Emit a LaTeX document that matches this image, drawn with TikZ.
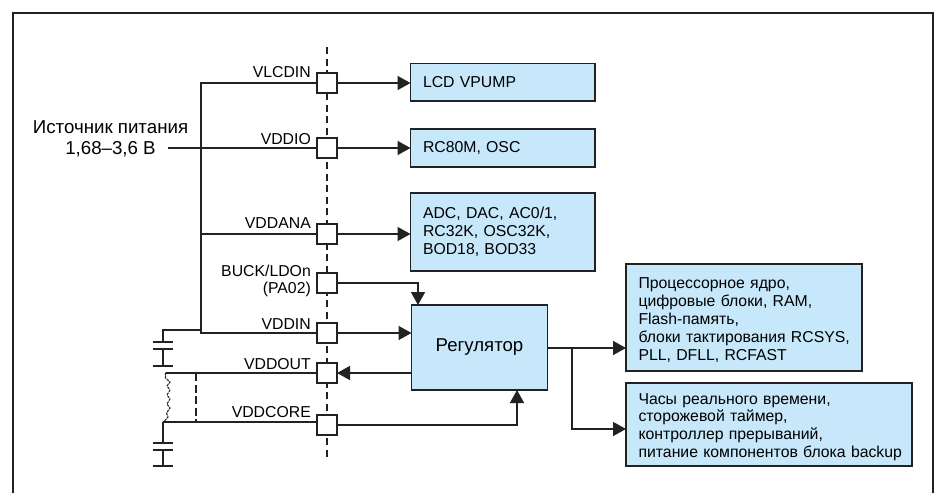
\documentclass[tikz,border=0pt]{standalone}
\usepackage{fontspec}
\setmainfont{Liberation Sans}
\usetikzlibrary{arrows.meta}
\definecolor{boxblue}{HTML}{C6E8FA}
\definecolor{ink}{HTML}{222222}
\newcommand{\dropline}{\rule{0pt}{16pt}}
\tikzset{
  x=1pt,y=-1pt,
  wire/.style={draw=ink,line width=1.5pt},
  arrowwire/.style={wire,-{Triangle[length=13pt,width=14pt]}},
  pin/.style={draw=ink,fill=white,line width=1.5pt,minimum width=20pt,minimum height=20pt,inner sep=0pt,outer sep=0pt},
  bluebox/.style={draw=ink,fill=boxblue,line width=1.4pt,inner ysep=0pt,inner xsep=12.5pt,outer sep=0pt,align=left,font=\fontsize{15.8}{17.8}\selectfont},
  lbl/.style={anchor=base east,inner sep=0pt,font=\fontsize{15.8}{17}\selectfont},
  plate/.style={draw=ink,line width=1.5pt},
}
\begin{document}
\begin{tikzpicture}
\useasboundingbox (0,0) rectangle (937,493);
% frame
\coordinate (f1) at (13,493);\coordinate (f2) at (13,13);\coordinate (f3) at (933,13);\coordinate (f4) at (933,493);
\draw[draw=ink,line width=1.4pt] (f1)--(f2)--(f3)--(f4);
% dashed axis
\coordinate (axT) at (327,47);\coordinate (axB) at (327,458);
\draw[draw=ink,line width=1.4pt,dash pattern=on 7pt off 4.5pt] (axT)--(axB);
% pins
\node[pin] (p1) at (327,83) {};
\node[pin] (p2) at (327,148) {};
\node[pin] (p3) at (327,234) {};
\node[pin] (p4) at (327,283) {};
\node[pin] (p5) at (327,333) {};
\node[pin] (p6) at (327,373) {};
\node[pin] (p7) at (327,425) {};
% boxes
\node[bluebox,anchor=north west,minimum width=184.5pt,minimum height=37.5pt,text width=159.5pt] (lcd) at (410.5,63.5) {LCD VPUMP};
\node[bluebox,anchor=north west,minimum width=184.5pt,minimum height=38pt,text width=159.5pt] (rc) at (410.5,129) {RC80M, OSC};
\node[bluebox,anchor=north west,minimum width=184.5pt,minimum height=78pt,text width=159.5pt] (adc) at (410.5,193) {ADC, DAC, AC0/1,\\RC32K, OSC32K,\\BOD18, BOD33};
\node[bluebox,anchor=north west,minimum width=136pt,minimum height=85pt,text width=111pt,align=center,font=\fontsize{18.6}{20}\selectfont] (reg) at (411.5,305) {Регулятор};
\node[bluebox,anchor=north west,minimum width=236pt,minimum height=107pt,text width=211pt] (core) at (626,264) {\dropline Процессорное ядро,\\цифровые блоки, RAM,\\Flash-память,\\\mbox{блоки тактирования RCSYS,}\\PLL, DFLL, RCFAST};
\node[bluebox,anchor=north west,minimum width=286pt,minimum height=83pt,text width=261pt] (rtc) at (626,383) {\dropline Часы реального времени,\\сторожевой таймер,\\контроллер прерываний,\\\mbox{питание компонентов блока backup}};
% labels
\node[lbl] (l1) at (311,77) {VLCDIN};
\node[lbl] (l2) at (311,144) {VDDIO};
\node[lbl] (l3) at (311,228) {VDDANA};
\node[lbl] (l4a) at (311,276) {BUCK/LDOn};
\node[lbl] (l4b) at (311,293.5) {(PA02)};
\node[lbl] (l5) at (311,329) {VDDIN};
\node[lbl] (l6) at (311,369.5) {VDDOUT};
\node[lbl] (l7) at (311,417) {VDDCORE};
\node[inner sep=0pt,anchor=base,font=\fontsize{18.7}{20}\selectfont] (src1) at (110.5,133) {Источник питания};
\node[inner sep=0pt,anchor=base,font=\fontsize{18.7}{20}\selectfont] (src2) at (110.5,154) {1,68–3,6 В};
% supply bus
\coordinate (srcend) at (168,148);
\coordinate (busT) at (201,83);
\coordinate (bus2) at (201,148);
\coordinate (bus3) at (201,234);
\coordinate (busC) at (201,330);
\coordinate (busB) at (201,333);
\draw[wire] (p1.west)--(busT)--(busB)--(p5.west);
\draw[wire] (srcend)--(p2.west);
\draw[wire] (bus3)--(p3.west);
% pin to box arrows
\draw[arrowwire] (p1.east)--(lcd.west|-p1);
\draw[arrowwire] (p2.east)--(rc.west|-p2);
\draw[arrowwire] (p3.east)--(adc.west|-p3);
\draw[arrowwire] (p5.east)--(reg.west|-p5);
\draw[arrowwire] (reg.west|-p6)--(p6.east);
\coordinate (c4) at (418,283);
\draw[arrowwire] (p4.east)--(c4)--(c4|-reg.north);
\coordinate (c7) at (517,425);
\draw[arrowwire] (p7.east)--(c7)--(c7|-reg.south);
% regulator outputs
\coordinate (regout) at (547.5,348);
\coordinate (branch) at (572,348);
\coordinate (branchB) at (572,429);
\draw[arrowwire] (regout)--(core.west|-regout);
\draw[arrowwire] (branch)--(branchB)--(rtc.west|-branchB);
% capacitor 1
\coordinate (c1a) at (163,330);
\coordinate (c1b) at (163,342);
\coordinate (c1c) at (163,349);
\coordinate (c1d) at (163,366);
\draw[wire] (busC)--(c1a)--(c1b);
\draw[wire] (c1c)--(c1d);
\draw[plate] (153,342)--(173,342);
\draw[plate] (153,349)--(173,349);
\draw[plate] (153,366)--(173,366);
% VDDOUT / VDDCORE lines
\coordinate (o1) at (165.5,373);
\coordinate (o2) at (163,422);
\draw[wire] (o1)--(p6.west|-o1);
\draw[wire] (o2)--(p7.west|-o2);
\coordinate (dT) at (196,373);\coordinate (dB) at (196,422);
\draw[draw=ink,line width=1.4pt,dash pattern=on 8pt off 3.5pt] (dT)--(dB);
% inductor-like squiggle
\draw[draw=ink,line width=1.1pt,line cap=round,dash pattern=on 2pt off 1.5pt]
 (o1)--(165.5,378)--(170,382)--(167,386)--(170,390)--(167,395)--(170,399)--(167,404)--(170,408)--(166.5,413)--(168,417)--(165.5,420)--(o2);
% capacitor 2
\coordinate (c2b) at (163,443);
\coordinate (c2c) at (163,450);
\coordinate (c2d) at (163,466);
\draw[wire] (o2)--(c2b);
\draw[wire] (c2c)--(c2d);
\draw[plate] (153,443)--(173,443);
\draw[plate] (153,450)--(173,450);
\draw[plate] (153,466)--(173,466);
\end{tikzpicture}
\end{document}
